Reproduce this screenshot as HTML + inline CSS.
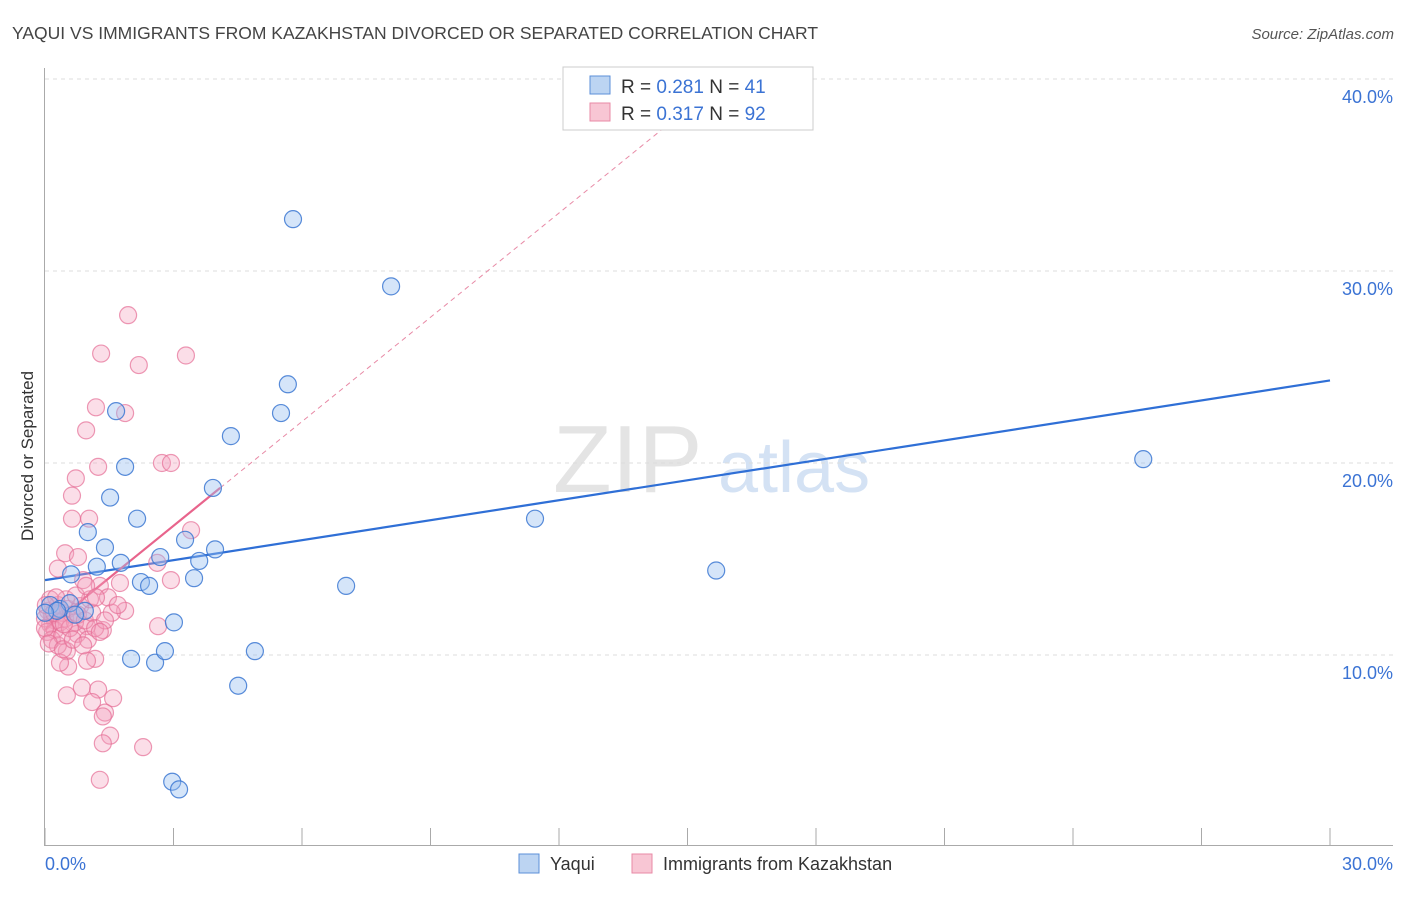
<!DOCTYPE html>
<html><head><meta charset="utf-8"><style>
body{margin:0;background:#fff;font-family:"Liberation Sans",sans-serif;}
svg text{font-family:"Liberation Sans",sans-serif;}
</style></head><body>
<svg id="chart" width="1406" height="892" viewBox="0 0 1406 892" xmlns="http://www.w3.org/2000/svg">
<text x="12" y="39" font-size="17.5" fill="#444">YAQUI VS IMMIGRANTS FROM KAZAKHSTAN DIVORCED OR SEPARATED CORRELATION CHART</text>
<text x="1394" y="39" font-size="15" fill="#555" text-anchor="end" font-style="italic">Source: ZipAtlas.com</text>
<text transform="translate(33,456) rotate(-90)" font-size="17" fill="#333" text-anchor="middle">Divorced or Separated</text>
<g id="watermark">
<text x="553" y="492" font-size="96" fill="#e4e4e4" font-family="Liberation Serif">ZIP</text>
<text x="718" y="492" font-size="72" fill="#d4e2f4">atlas</text>
</g>
<g id="grid"></g><g id="axes"></g><g id="lines"></g><g id="pts"></g>
<g>
<rect x="563" y="67" width="250" height="63" fill="#fff" stroke="#ccc"/>
<rect x="590" y="76" width="20" height="18" fill="#bcd4f2" stroke="#5b8fd8"/>
<text x="621" y="93" font-size="19" fill="#333">R = <tspan fill="#3b73d4">0.281</tspan>   N =  <tspan fill="#3b73d4">41</tspan></text>
<rect x="590" y="103" width="20" height="18" fill="#f8c6d4" stroke="#e889a6"/>
<text x="621" y="120" font-size="19" fill="#333">R = <tspan fill="#3b73d4">0.317</tspan>   N = <tspan fill="#3b73d4">92</tspan></text>
</g>
<g>
<rect x="519" y="854" width="20" height="19" fill="#bcd4f2" stroke="#5b8fd8"/>
<text x="550" y="870" font-size="18" fill="#333">Yaqui</text>
<rect x="632" y="854" width="20" height="19" fill="#f8c6d4" stroke="#e889a6"/>
<text x="663" y="870" font-size="18" fill="#333">Immigrants from Kazakhstan</text>
</g>
</svg>
<script>
const yaquiX=[5.79,8.08,5.67,5.51,4.34,1.66,1.87,1.52,3.92,2.15,1.0,3.27,1.40,3.97,2.69,3.6,1.77,1.21,2.24,2.43,3.48,0.61,7.03,11.44,15.67,25.64,3.01,2.01,2.57,2.8,4.9,4.51,2.97,3.13,0.12,0.35,0.58,0.28,0.93,0.7,0];
const yaquiY=[32.7,29.2,24.1,22.6,21.4,22.7,19.8,18.2,18.7,17.1,16.4,16.0,15.6,15.5,15.1,14.9,14.8,14.6,13.8,13.6,14.0,14.2,13.6,17.1,14.4,20.2,11.7,9.8,9.6,10.2,10.2,8.4,3.4,3.0,12.6,12.4,12.7,12.3,12.3,12.1,12.2];
const kazX=[1.94,1.31,2.19,3.29,1.19,1.87,0.96,1.24,2.73,2.94,0.72,0.63,0.63,1.03,3.41,0.47,0.77,0.30,2.62,2.94,1.75,0.89,1.28,1.87,1.56,2.64,1.35,0.98,0.75,0.51,1.17,0.54,0.35,0.98,0.51,0.86,1.24,1.10,1.59,1.40,1.35,1.52,1.35,2.29,1.28,
0.07,0.16,0.23,0.30,0.40,0.47,0.12,0.23,0.35,0.54,0.63,0.70,0.82,0,0.05,0.16,0.30,0.40,0.58,0.77,0.93,1.0,1.10,1.17,0.12,0.49,0.26,0,0.09,0.42,0.65,0.89,1.40,1.47,1.05,1.70,1.28,0.02,0.21,0.44,0.72,0.96,1.19];
const kazY=[27.7,25.7,25.1,25.6,22.9,22.6,21.7,19.8,20.0,20.0,19.2,18.3,17.1,17.1,16.5,15.3,15.1,14.5,14.8,13.9,13.75,13.9,13.6,12.3,12.2,11.5,11.3,11.5,11.1,10.2,9.8,9.4,9.6,9.7,7.9,8.3,8.2,7.55,7.75,7.0,6.8,5.8,5.4,5.2,3.5,
12.3,12.1,11.8,12.6,12.2,11.9,11.6,11.3,11.7,12.4,12.1,11.7,12.55,11.9,11.2,10.8,10.5,11.0,11.4,12.1,11.8,10.8,12.2,11.4,12.9,12.9,13.0,11.4,10.6,10.3,10.8,10.5,11.8,13.0,12.9,12.6,11.2,12.6,12.2,11.6,13.1,13.6,13.0];
const yaquiFit=[13.9,24.3];   // y at x=0, y at x=30
const kazFit=[11.3,1.81];     // intercept, slope
const yTicks=[10,20,30,40];
const yTickLabels=["10.0%","20.0%","30.0%","40.0%"];
const xTicks=[0,3,6,9,12,15,18,21,24,27,30];

const NS="http://www.w3.org/2000/svg";
const X=v=>45+v/30*1285, Y=v=>847-v*19.2;
function mk(tag,attrs,parent){const e=document.createElementNS(NS,tag);for(const k in attrs)e.setAttribute(k,attrs[k]);document.getElementById(parent).appendChild(e);return e;}
yTicks.forEach((t,i)=>{
 const l=mk('line',{x1:45,x2:1393,y1:Y(t),y2:Y(t),stroke:'#ddd','stroke-dasharray':'4,4'},'grid');
 
 
 const tx=mk('text',{x:1393,y:Y(t)+24,'font-size':18,fill:'#3b73d4','text-anchor':'end'},'grid');
 tx.textContent=yTickLabels[i];
 
 
});
let a=mk('line',{x1:44.5,x2:44.5,y1:68,y2:845,stroke:'#aaa'},'axes');


a=mk('line',{x1:44,x2:1393,y1:845.5,y2:845.5,stroke:'#aaa'},'axes');


xTicks.forEach(t=>{
 const l=mk('line',{x1:X(t),x2:X(t),y1:828,y2:845,stroke:'#aaa'},'axes');
 
 
});
let t0=mk('text',{x:45,y:870,'font-size':18,fill:'#3b73d4'},'axes');t0.textContent="0.0%";


let t1=mk('text',{x:1393,y:870,'font-size':18,fill:'#3b73d4','text-anchor':'end'},'axes');t1.textContent="30.0%";



function dots(xs,ys,fill,stroke,name){xs.forEach((x,i)=>{
 const c=mk('circle',{cx:X(x),cy:Y(ys[i]),r:8.5,fill:fill,stroke:stroke,'stroke-width':1.2},'pts');
 
 
});}
dots(kazX,kazY,'rgba(244,160,188,0.35)','rgba(230,110,150,0.7)','kazakhstan-point');
dots(yaquiX,yaquiY,'rgba(150,190,240,0.4)','rgba(60,120,210,0.85)','yaqui-point');

let ln=mk('line',{x1:X(0),y1:Y(yaquiFit[0]),x2:X(30),y2:Y(yaquiFit[1]),stroke:'#2f6fd6','stroke-width':2.2},'lines');


const kEnd=4.09, kTop=(40.5-kazFit[0])/kazFit[1];
ln=mk('line',{x1:X(kEnd),y1:Y(kazFit[0]+kazFit[1]*kEnd),x2:X(kTop),y2:Y(40.5),stroke:'#e88aa6','stroke-width':1,'stroke-dasharray':'5,4'},'lines');


ln=mk('line',{x1:X(0),y1:Y(kazFit[0]),x2:X(kEnd),y2:Y(kazFit[0]+kazFit[1]*kEnd),stroke:'#e8648c','stroke-width':2.2},'lines');


</script>
</body></html>
